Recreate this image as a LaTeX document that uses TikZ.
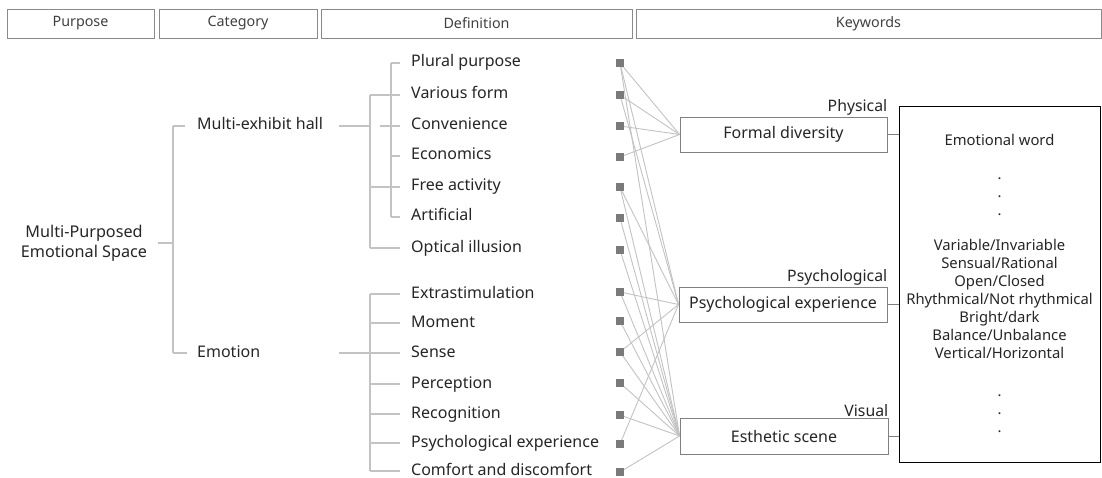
\documentclass[tikz,border=0pt]{standalone}
\usepackage{fontspec}
\setmainfont{Noto Sans}
\usetikzlibrary{calc}
\definecolor{txt}{HTML}{262626}
\definecolor{hdrtxt}{HTML}{404040}
\definecolor{hdrgray}{HTML}{8A8A8A}
\definecolor{treegray}{HTML}{C3C3C3}
\definecolor{conngray}{HTML}{C3C3C3}
\definecolor{sqgray}{HTML}{7A7A7A}
\definecolor{kwgray}{HTML}{808080}
\pgfdeclarelayer{bg}
\pgfsetlayers{bg,main}
\begin{document}
\begin{tikzpicture}[x=1pt,y=-1pt,
  hdr/.style={draw=hdrgray, line width=0.9pt, minimum height=29pt, inner sep=0pt, text=hdrtxt, font=\fontsize{14.3}{16}\selectfont},
  tree/.style={draw=treegray, line width=1.4pt},
  lbl/.style={anchor=west, inner sep=0pt, text=txt, text height=11.5pt, text depth=3.5pt, font=\fontsize{16}{19}\selectfont},
  sq/.style={fill=sqgray, minimum size=7.5pt, inner sep=0pt},
  conn/.style={draw=conngray, line width=0.9pt},
  kw/.style={draw=kwgray, line width=0.9pt, minimum width=207pt, minimum height=35pt, inner sep=0pt, text=txt, font=\fontsize{16}{19}\selectfont},
  kwlbl/.style={anchor=south east, inner sep=0pt, text=txt, font=\fontsize{15.8}{19}\selectfont},
  word/.style={inner sep=0pt, text=txt, font=\fontsize{14.8}{17}\selectfont}
]
\useasboundingbox (0,0) rectangle (1102,478);
\begin{pgfonlayer}{bg}
\fill[white] (0,0) rectangle (1102,478);
\end{pgfonlayer}

% header
\node[hdr, minimum width=147pt] (hpur) at (80.5,23.5) {Purpose};
\node[hdr, minimum width=158pt] (hcat) at (238,23.5) {Category};
\node[hdr, minimum width=311pt] (hdef) at (476.5,23.5) {Definition};
\node[hdr, minimum width=465pt] (hkey) at (868.5,23.5) {Keywords};

% purpose and categories
\node[inner sep=0pt, align=center, text=txt, font=\fontsize{16.2}{20}\selectfont] (root) at (84,243) {Multi-Purposed\\Emotional Space};
\node[lbl] (multi) at (197,126) {Multi-exhibit hall};
\node[lbl] (emo) at (197,353) {Emotion};

% definitions
\node[lbl] (d1) at (411,63) {Plural purpose};
\node[lbl] (d2) at (411,95) {Various form};
\node[lbl] (d3) at (411,126) {Convenience};
\node[lbl] (d4) at (411,156) {Economics};
\node[lbl] (d5) at (411,187) {Free activity};
\node[lbl] (d6) at (411,217) {Artificial};
\node[lbl] (d7) at (411,248) {Optical illusion};
\node[lbl] (d8) at (411,294) {Extrastimulation};
\node[lbl] (d9) at (411,323) {Moment};
\node[lbl] (d10) at (411,353) {Sense};
\node[lbl] (d11) at (411,384) {Perception};
\node[lbl] (d12) at (411,414) {Recognition};
\node[lbl] (d13) at (411,443) {Psychological experience};
\node[lbl] (d14) at (411,471) {Comfort and discomfort};

% tree lines
\coordinate (rj) at (173,243);
\draw[tree] (158,243) -- (rj);
\draw[tree] (173,126) -- (173,353);
\draw[tree] (173,126) -- (185,126);
\draw[tree] (173,353) -- (187,353);
% multi-exhibit hall
\draw[tree] (339,126) -- (370,126);
\draw[tree] (370,95) -- (370,248);
\draw[tree] (370,95) -- (400,95);
\draw[tree] (370,187) -- (400,187);
\draw[tree] (370,248) -- (400,248);
\draw[tree] (391,63) -- (391,217);
\draw[tree] (391,63) -- (400,63);
\draw[tree] (380,126) -- (400,126);
\draw[tree] (391,156) -- (400,156);
\draw[tree] (391,217) -- (400,217);
% emotion
\draw[tree] (339,353) -- (370,353);
\draw[tree] (370,294) -- (370,471);
\foreach \y in {294,323,353,384,414,443,471} \draw[tree] (370,\y) -- (400,\y);

% squares
\foreach \i/\y in {1/63,2/95,3/126,4/157,5/187,6/218,7/250,8/292,9/321,10/352,11/383,12/415,13/444,14/472}
  \node[sq] (s\i) at (620,\y) {};

% keyword boxes
\node[kw] (kf) at (783.5,134.5) {Formal diversity};
\node[kw, minimum width=208pt] (kp) at (783,304.5) {Psychological experience};
\node[kw, minimum width=208pt, minimum height=36pt] (ke) at (784,436) {Esthetic scene};
\node[kwlbl] (lphys) at ([yshift=1pt]kf.north east) {Physical};
\node[kwlbl] (lpsy) at ([yshift=1pt]kp.north east) {Psychological};
\node[kwlbl] (lvis) at ([yshift=1pt]ke.north east) {Visual};

% connections
\begin{pgfonlayer}{bg}
\foreach \i in {1,2,3,4} \draw[conn] (s\i.center) -- (kf.west);
\foreach \i in {1,2,5,8,10,13} \draw[conn] (s\i.center) -- (kp.west);
\foreach \i in {1,5,6,7,8,9,10,11,12,14} \draw[conn] (s\i.center) -- (ke.west);
\end{pgfonlayer}

% emotional word box
\node[draw=black, line width=1pt, minimum width=201pt, minimum height=355pt, inner sep=0pt] (big) at (999.5,284.5) {};
\draw[draw=kwgray, line width=0.9pt] (kf.east) -- (kf.east -| big.west);
\draw[draw=kwgray, line width=0.9pt] (kp.east) -- (kp.east -| big.west);
\draw[draw=kwgray, line width=0.9pt] (ke.east) -- (ke.east -| big.west);

\node[word] (ew) at (999.5,140) {Emotional word};
\foreach \n/\y in {a/180,b/198,c/216,d/396,e/414,f/432}
  \node[word, anchor=base] (dot\n) at (999.5,\y) {.};
\node[word, text height=10.5pt, text depth=3pt] (w1) at (999.5,247) {Variable/Invariable};
\node[word, text height=10.5pt, text depth=3pt] (w2) at (999.5,265) {Sensual/Rational};
\node[word, text height=10.5pt, text depth=3pt] (w3) at (999.5,283) {Open/Closed};
\node[word, text height=10.5pt, text depth=3pt] (w4) at (999.5,301) {Rhythmical/Not rhythmical};
\node[word, text height=10.5pt, text depth=3pt] (w5) at (999.5,319) {Bright/dark};
\node[word, text height=10.5pt, text depth=3pt] (w6) at (999.5,337) {Balance/Unbalance};
\node[word, text height=10.5pt, text depth=3pt] (w7) at (999.5,355) {Vertical/Horizontal};
\end{tikzpicture}
\end{document}
